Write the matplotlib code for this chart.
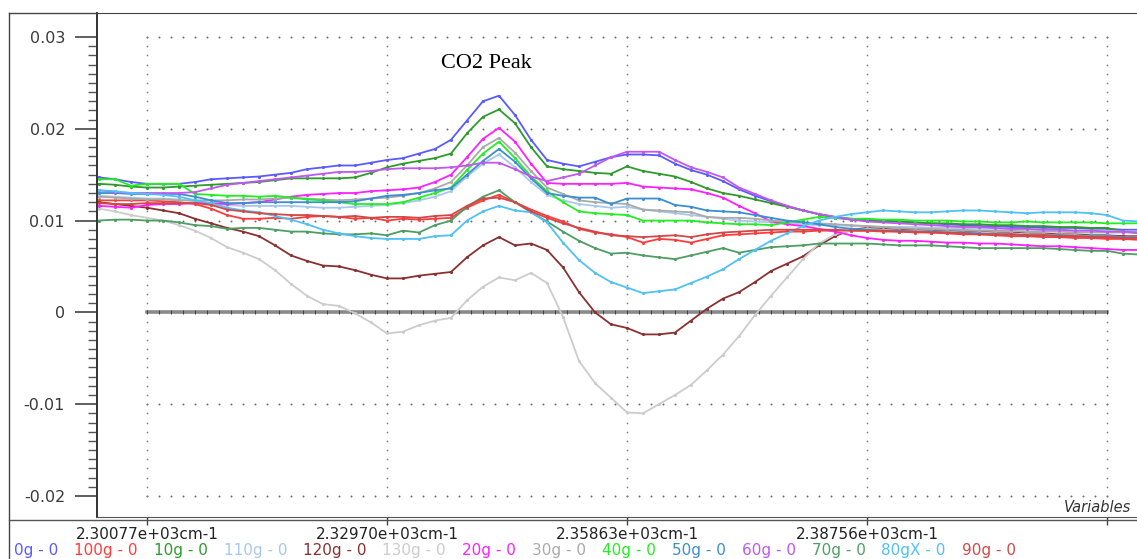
import numpy as np
import matplotlib
matplotlib.use('Agg')
import matplotlib.pyplot as plt
from matplotlib.lines import Line2D
from matplotlib.offsetbox import TextArea, HPacker, AnchoredOffsetbox

# spectral axis (cm-1), one point every 28.93/15 cm-1
wn = 2300.77 + 1.92867 * np.arange(-3, 63)
xticks = [2300.77, 2329.70, 2358.63, 2387.56, 2416.49]
xticklabels = ["2.30077e+03cm-1", "2.32970e+03cm-1", "2.35863e+03cm-1",
               "2.38756e+03cm-1", ""]

# values in units of 1e-3
s0g = [14.7, 14.5, 14.2, 14.0, 14.0, 14.0, 14.2, 14.5, 14.6, 14.7, 14.8,
       15.0, 15.2, 15.6, 15.8, 16.0, 16.0, 16.3, 16.6, 16.8, 17.3, 17.8,
       18.8, 20.9, 23.0, 23.6, 21.5, 18.8, 16.6, 16.2, 15.9, 16.4, 16.9,
       17.2, 17.2, 17.1, 16.2, 15.5, 15.0, 14.3, 13.4, 12.7, 12.1, 11.6,
       11.1, 10.7, 10.3, 10.1, 10.0, 9.9, 9.9, 9.8, 9.7, 9.6, 9.5,
       9.4, 9.4, 9.3, 9.3, 9.2, 9.2, 9.2, 9.1, 9.1, 9.0, 9.0]
s100g = [12.2, 12.2, 12.2, 12.2, 12.1, 12.0, 11.8, 11.3, 10.6, 10.2, 10.2,
         10.3, 10.2, 10.4, 10.5, 10.4, 10.2, 10.3, 10.0, 10.2, 10.1, 10.2,
         10.3, 11.4, 12.2, 12.8, 12.0, 11.2, 10.5, 9.9, 9.1, 8.7, 8.5,
         8.2, 7.6, 8.0, 7.9, 7.6, 8.0, 8.4, 8.5, 8.6, 8.7, 8.8,
         8.8, 8.9, 8.9, 8.9, 8.9, 8.8, 8.8, 8.7, 8.7, 8.6, 8.5,
         8.5, 8.4, 8.3, 8.3, 8.2, 8.2, 8.1, 8.1, 8.0, 8.0, 7.9]
s10g = [14.0, 13.9, 13.7, 13.6, 13.6, 13.7, 13.8, 13.9, 14.0, 14.1, 14.2,
        14.4, 14.6, 14.6, 14.6, 14.6, 14.7, 15.2, 15.8, 16.2, 16.5, 16.8,
        17.3, 19.5, 21.3, 22.1, 20.6, 18.0, 15.9, 15.6, 15.4, 15.2, 15.1,
        15.9, 15.4, 15.1, 14.8, 14.2, 13.5, 13.0, 12.7, 12.3, 11.9, 11.5,
        11.1, 10.7, 10.4, 10.2, 10.1, 10.0, 9.9, 9.8, 9.7, 9.7, 9.6,
        9.6, 9.5, 9.5, 9.4, 9.4, 9.3, 9.3, 9.2, 9.2, 8.8, 8.6]
s110g = [12.7, 12.6, 12.5, 12.4, 12.4, 12.3, 12.1, 11.9, 11.7, 11.6, 11.6,
         11.6, 11.6, 11.5, 11.4, 11.4, 11.5, 11.6, 11.7, 11.9, 12.2, 12.6,
         13.2, 14.8, 16.2, 17.2, 15.8, 14.2, 12.8, 12.2, 11.8, 11.6, 11.4,
         11.5, 11.2, 11.0, 10.8, 10.6, 10.4, 10.2, 10.0, 9.9, 9.8, 9.7,
         9.6, 9.5, 9.5, 9.4, 9.4, 9.3, 9.3, 9.3, 9.2, 9.2, 9.2,
         9.1, 9.1, 9.1, 9.0, 9.0, 9.0, 8.9, 8.9, 8.9, 8.8, 8.8]
s120g = [12.0, 11.8, 11.6, 11.4, 11.1, 10.8, 10.2, 9.7, 9.2, 8.8, 8.3,
         7.3, 6.2, 5.6, 5.1, 5.0, 4.6, 4.1, 3.7, 3.7, 4.0, 4.2,
         4.4, 6.0, 7.3, 8.2, 7.3, 7.5, 6.8, 4.9, 2.2, 0.0, -1.3,
         -1.7, -2.4, -2.4, -2.2, -0.9, 0.4, 1.5, 2.2, 3.3, 4.5, 5.3,
         6.1, 7.3, 8.3, 9.0, 9.2, 9.1, 9.0, 9.0, 8.9, 8.9, 8.8,
         8.8, 8.7, 8.7, 8.6, 8.6, 8.5, 8.5, 8.4, 8.4, 8.3, 8.3]
s130g = [11.3, 11.0, 10.6, 10.3, 10.0, 9.5, 8.9, 8.1, 7.1, 6.5, 5.8,
         4.6, 3.1, 1.8, 0.9, 0.7, -0.1, -1.1, -2.3, -2.1, -1.4, -0.9,
         -0.6, 1.3, 2.8, 3.8, 3.5, 4.3, 3.2, -0.5, -5.3, -7.7, -9.3,
         -10.9, -11.0, -10.0, -9.0, -7.9, -6.3, -4.6, -2.6, -0.3, 1.8, 3.8,
         5.8, 7.5, 8.5, 8.9, 9.1, 9.0, 8.9, 8.9, 8.8, 8.8, 8.7,
         8.7, 8.6, 8.6, 8.5, 8.5, 8.4, 8.4, 8.3, 8.3, 8.2, 8.2]
s20g = [11.6, 11.5, 11.4, 11.7, 11.8, 11.8, 11.9, 11.9, 11.8, 11.9, 12.0,
        12.3, 12.6, 12.8, 12.9, 13.0, 13.0, 13.2, 13.3, 13.4, 13.6, 14.2,
        15.0, 16.9, 18.9, 20.1, 18.6, 16.2, 14.1, 14.0, 14.0, 14.0, 14.0,
        14.1, 13.7, 13.6, 13.5, 13.4, 13.0, 12.5, 11.6, 10.8, 9.9, 9.6,
        9.4, 9.1, 8.8, 8.4, 8.1, 7.9, 7.8, 7.8, 7.7, 7.6, 7.6,
        7.5, 7.5, 7.4, 7.3, 7.2, 7.2, 7.1, 7.0, 6.9, 6.8, 6.8]
s30g = [12.6, 12.5, 12.4, 12.3, 12.3, 12.2, 12.2, 12.2, 12.2, 12.3, 12.3,
        12.4, 12.5, 12.4, 12.3, 12.2, 12.3, 12.4, 12.5, 12.7, 13.0, 13.5,
        14.2, 16.0, 18.0, 19.0, 17.4, 15.4, 13.6, 12.9, 12.2, 12.0, 11.9,
        11.8, 11.2, 11.1, 11.0, 10.9, 10.4, 10.3, 10.3, 10.2, 10.0, 9.9,
        9.8, 9.7, 9.6, 9.5, 9.4, 9.3, 9.2, 9.1, 9.1, 9.0, 9.0,
        8.9, 8.9, 8.9, 8.8, 8.8, 8.8, 8.7, 8.7, 8.7, 8.7, 8.7]
s40g = [14.5, 14.5, 13.8, 14.0, 14.0, 14.0, 12.9, 12.8, 12.7, 12.7, 12.6,
        12.7, 12.5, 12.3, 12.2, 12.0, 11.8, 11.8, 11.8, 12.0, 12.5, 13.0,
        13.6, 15.5, 17.3, 18.6, 16.8, 14.8, 13.2, 12.0, 11.0, 10.8, 10.7,
        10.6, 10.0, 10.0, 10.0, 10.0, 9.8, 9.7, 9.6, 9.6, 9.5, 9.8,
        10.1, 10.4, 10.3, 10.2, 10.2, 10.1, 10.1, 10.0, 10.0, 10.0, 9.9,
        9.9, 9.8, 9.8, 9.9, 9.8, 9.8, 9.8, 9.8, 9.7, 9.7, 9.7]
s50g = [13.0, 13.0, 12.9, 12.9, 12.9, 12.9, 12.6, 12.2, 11.9, 11.9, 12.0,
        12.0, 12.0, 12.0, 12.0, 12.0, 12.1, 12.4, 12.7, 12.8, 13.0, 13.3,
        13.5, 15.0, 16.5, 17.8, 16.4, 14.6, 13.0, 12.7, 12.5, 12.5, 11.8,
        12.4, 12.4, 12.4, 11.7, 11.5, 11.1, 11.0, 10.9, 10.6, 10.3, 10.0,
        9.8, 9.6, 9.3, 9.1, 9.0, 8.9, 8.9, 8.8, 8.8, 8.7, 8.7,
        8.6, 8.5, 8.5, 8.4, 8.4, 8.4, 8.3, 8.3, 8.3, 8.2, 8.2]
s60g = [13.3, 13.1, 13.0, 13.0, 13.0, 13.0, 13.1, 13.5, 13.9, 14.1, 14.3,
        14.5, 14.7, 14.9, 15.1, 15.3, 15.3, 15.4, 15.6, 15.7, 15.7, 15.7,
        15.8, 16.0, 16.3, 16.3, 15.6, 14.8, 14.3, 14.7, 15.1, 16.0, 16.9,
        17.5, 17.5, 17.5, 16.6, 15.8, 15.3, 14.7, 13.6, 12.9, 12.2, 11.6,
        11.1, 10.7, 10.4, 10.1, 9.9, 9.8, 9.7, 9.6, 9.5, 9.4, 9.3,
        9.3, 9.2, 9.1, 9.1, 9.0, 9.0, 8.9, 8.9, 8.8, 8.8, 8.7]
s70g = [10.0, 10.1, 10.1, 10.0, 10.0, 9.8, 9.5, 9.4, 9.1, 9.2, 9.2,
        9.0, 8.8, 8.8, 8.6, 8.5, 8.5, 8.6, 8.4, 8.9, 8.7, 9.5,
        10.0, 11.5, 12.6, 13.3, 12.0, 10.9, 9.9, 8.8, 7.8, 7.0, 6.4,
        6.5, 6.2, 6.0, 5.8, 6.2, 6.6, 7.0, 6.5, 6.8, 7.1, 7.2,
        7.3, 7.5, 7.5, 7.5, 7.5, 7.4, 7.3, 7.3, 7.3, 7.2, 7.1,
        7.0, 7.0, 7.0, 7.0, 7.0, 6.9, 6.8, 6.7, 6.7, 6.4, 6.3]
s80gX = [13.3, 13.2, 13.0, 12.9, 12.8, 12.6, 12.2, 11.9, 11.4, 11.1, 10.9,
         10.5, 10.1, 9.6, 9.0, 8.6, 8.3, 8.1, 8.0, 8.0, 8.0, 8.3,
         8.4, 10.0, 11.0, 11.6, 11.1, 10.9, 9.8, 7.6, 5.7, 4.3, 3.3,
         2.7, 2.1, 2.3, 2.5, 3.2, 3.9, 4.7, 5.8, 6.8, 7.8, 8.6,
         9.4, 10.0, 10.4, 10.7, 10.9, 11.1, 11.0, 10.9, 10.9, 11.0, 11.1,
         11.1, 11.0, 10.9, 10.8, 10.9, 10.9, 10.9, 10.8, 10.6, 10.0, 9.9]
s90g = [11.9, 11.8, 11.8, 11.9, 11.9, 11.9, 11.9, 11.7, 11.2, 11.0, 10.8,
        10.7, 10.6, 10.6, 10.5, 10.4, 10.5, 10.3, 10.4, 10.4, 10.3, 10.5,
        10.6, 11.6, 12.4, 12.5, 12.0, 11.0, 10.3, 9.7, 9.2, 8.8, 8.4,
        8.3, 8.2, 8.3, 8.4, 8.2, 8.5, 8.7, 8.8, 8.9, 9.0, 9.0,
        9.0, 9.0, 9.0, 8.9, 8.9, 8.9, 8.8, 8.8, 8.7, 8.7, 8.6,
        8.5, 8.5, 8.5, 8.4, 8.4, 8.3, 8.3, 8.2, 8.2, 8.1, 8.1]

labels = ["0g - 0", "100g - 0", "10g - 0", "110g - 0", "120g - 0", "130g - 0",
          "20g - 0", "30g - 0", "40g - 0", "50g - 0", "60g - 0", "70g - 0",
          "80gX - 0", "90g - 0"]
series = [s0g, s100g, s10g, s110g, s120g, s130g, s20g, s30g, s40g, s50g,
          s60g, s70g, s80gX, s90g]
colors = ["#5a5aff", "#ff3c3c", "#2e9a2e", "#a8c8ec", "#8b3030", "#cccccc",
          "#ff20ff", "#aaaaaa", "#22ee22", "#3c8ed0", "#c058f0", "#4e9e64",
          "#50c0f5", "#d24848"]

W, H = 1137, 559
fig = plt.figure(figsize=(W / 100, H / 100), dpi=100)
ax = fig.add_axes([97 / W, 1 - 517 / H, 1 - 97 / W, (517 - 13) / H])

# dotted grid made of dots on the minor positions
ygrid = [0.03, 0.02, 0.01, -0.01, -0.02]
xdots = np.linspace(xticks[0], xticks[-1], 81)
ydots = np.linspace(-0.02, 0.03, 51)
for yv in ygrid:
    ax.plot(xdots, np.full(len(xdots), yv), ls='none', marker='o', ms=1.4,
            mew=0, color='#6a6a6a', zorder=1)
for xv in xticks:
    ax.plot(np.full(len(ydots), xv), ydots, ls='none', marker='o', ms=1.2,
            mew=0, color='#7a7a7a', zorder=1)

# zero base line with small ticks
ax.plot([xticks[0], xticks[-1]], [0, 0], color='#8a8a8a', lw=2.6, zorder=1)
ax.plot(xdots, np.zeros(len(xdots)), ls='none', marker='|', ms=3.5,
        mew=0.8, color='#444444', zorder=1)

for s, c in zip(series, colors):
    ax.plot(wn, np.array(s) * 1e-3, color=c, lw=1.3, marker='.', ms=2.5,
            zorder=2)

ax.set_xlim(2294.74, 2420.11)
ax.set_ylim(-0.02229, 0.03261)

ax.set_yticks([0.03, 0.02, 0.01, 0, -0.01, -0.02])
ax.set_yticklabels(["0.03", "0.02", "0.01", "0", "-0.01", "-0.02"])
ax.set_yticks(ydots, minor=True)
ax.tick_params(axis='y', which='major', length=16, width=1.2, pad=7,
               color='#444444', labelcolor='#3a3a3a', labelsize=11.5)
ax.tick_params(axis='y', which='minor', length=6.5, width=1.0,
               color='#555555')
ax.set_xticks(xticks)
ax.set_xticklabels(xticklabels)
ax.tick_params(axis='x', which='major', length=6, width=1.0, pad=1.5,
               color='#444444', labelcolor='#222222', labelsize=11)

ax.spines['right'].set_visible(False)
ax.spines['left'].set_color('#333333')
ax.spines['left'].set_linewidth(1.4)
ax.spines['top'].set_color('#444444')
ax.spines['bottom'].set_color('#555555')

# outer frame and separator
fig.add_artist(Line2D([9 / W, 9 / W], [1 - 13 / H, 0], transform=fig.transFigure,
                      color='#444444', lw=1))
fig.add_artist(Line2D([9 / W, 97 / W], [1 - 13 / H] * 2, transform=fig.transFigure,
                      color='#444444', lw=1))
fig.add_artist(Line2D([9 / W, 1], [1 - 520 / H] * 2, transform=fig.transFigure,
                      color='#555555', lw=1))

fig.text(441 / W, 1 - 63 / H, "CO2 Peak", family='Liberation Serif',
         fontsize=16, va='center', ha='left', color='black')
fig.text(1131 / W, 1 - 508 / H, "Variables", style='italic', fontsize=10.5,
         ha='right', va='center', color='#333333')

# coloured legend row
boxes = [TextArea(l, textprops=dict(color=c, fontsize=11))
         for l, c in zip(labels, colors)]
row = HPacker(children=boxes, align="baseline", pad=0, sep=11.5)
leg = AnchoredOffsetbox(loc='center left', child=row, pad=0, borderpad=0,
                        frameon=False, bbox_to_anchor=(14 / W, 1 - 551 / H),
                        bbox_transform=fig.transFigure)
fig.add_artist(leg)

plt.savefig("out.png", dpi=100)
